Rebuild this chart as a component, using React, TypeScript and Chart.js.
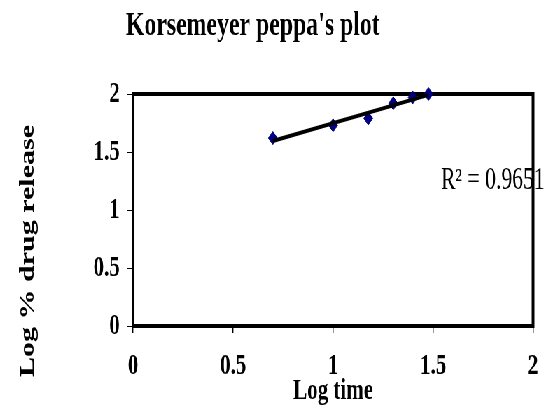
import { useEffect, useRef } from "react";
import { Chart, registerables } from "chart.js";

Chart.register(...registerables);

// ---- data ----
const logTime = [0.699, 1.0, 1.176, 1.301, 1.398, 1.477];
const logRelease = [1.62, 1.73, 1.79, 1.92, 1.97, 2.0];
const xTickValues = [0, 0.5, 1, 1.5, 2];
const yTickValues = [0, 0.5, 1, 1.5, 2];
const chartTitle = "Korsemeyer peppa's plot";
const xAxisTitle = "Log time";
const yAxisTitle = "Log % drug release";
const r2Label = "R² = 0.9651";
const r2Position = [1.54, 1.25];

// ---- view (the reference is horizontally condensed) ----
const SX = 0.7;
const VIEW_W = 549;
const VIEW_H = 419;
const CW = Math.round(VIEW_W / SX);
const SERIF = '"Liberation Serif", "Times New Roman", serif';

function linearFit(xs: number[], ys: number[]) {
  const n = xs.length;
  const mx = xs.reduce((a, b) => a + b, 0) / n;
  const my = ys.reduce((a, b) => a + b, 0) / n;
  let sxy = 0;
  let sxx = 0;
  for (let i = 0; i < n; i++) {
    sxy += (xs[i] - mx) * (ys[i] - my);
    sxx += (xs[i] - mx) * (xs[i] - mx);
  }
  const m = sxy / sxx;
  return { m, b: my - m * mx };
}

const decor = {
  id: "decor",
  beforeDatasetsDraw(chart: any) {
    const { ctx, chartArea: a, scales } = chart;
    ctx.save();
    ctx.fillStyle = "#000";
    ctx.font = `31px ${SERIF}`;
    ctx.textAlign = "left";
    ctx.textBaseline = "middle";
    ctx.fillText(
      r2Label,
      scales.x.getPixelForValue(r2Position[0]),
      scales.y.getPixelForValue(r2Position[1])
    );
    ctx.strokeStyle = "#000";
    ctx.lineWidth = 4;
    ctx.strokeRect(a.left, a.top, a.right - a.left, a.bottom - a.top);
    ctx.restore();
  },
  afterDraw(chart: any) {
    const { ctx } = chart;
    ctx.save();
    ctx.fillStyle = "#000";
    ctx.font = `bold 34px ${SERIF}`;
    ctx.textAlign = "center";
    ctx.textBaseline = "middle";
    ctx.fillText(chartTitle, 361, 26);
    ctx.translate(40, 251);
    ctx.rotate(-Math.PI / 2);
    ctx.font = `bold 30px ${SERIF}`;
    ctx.fillText(yAxisTitle, 0, 0);
    ctx.restore();
  },
};

export default function App() {
  const ref = useRef<HTMLCanvasElement | null>(null);

  useEffect(() => {
    if (!ref.current) return;
    const fit = linearFit(logTime, logRelease);
    const x0 = logTime[0];
    const x1 = logTime[logTime.length - 1];
    const tickFont = { family: SERIF, size: 30, weight: "bold" as const };

    const chart = new Chart(ref.current, {
      type: "scatter",
      data: {
        datasets: [
          {
            type: "line",
            label: "Trend",
            data: [
              { x: x0, y: fit.m * x0 + fit.b },
              { x: x1, y: fit.m * x1 + fit.b },
            ],
            borderColor: "#000",
            borderWidth: 4,
            pointRadius: 0,
            fill: false,
            clip: false as any,
          },
          {
            label: "Log % drug release",
            data: logTime.map((x, i) => ({ x, y: logRelease[i] })),
            pointStyle: "rectRot",
            pointRadius: 6.5,
            backgroundColor: "#000080",
            borderColor: "#000080",
            borderWidth: 1,
            clip: false as any,
          },
        ],
      },
      options: {
        animation: false,
        responsive: false,
        devicePixelRatio: 1,
        layout: { padding: { top: 94, right: 20, bottom: 0, left: 0 } },
        plugins: {
          legend: { display: false },
          title: { display: false },
          tooltip: { enabled: false },
        },
        scales: {
          x: {
            type: "linear",
            min: 0,
            max: 2,
            afterBuildTicks: (s: any) => {
              s.ticks = xTickValues.map((v) => ({ value: v }));
            },
            afterFit: (s: any) => {
              s.height = 93;
            },
            border: { display: false },
            grid: {
              drawOnChartArea: false,
              drawTicks: true,
              tickLength: 7,
              color: "#000",
              lineWidth: 1.4,
            },
            ticks: {
              color: "#000",
              font: tickFont,
              padding: 15,
              maxRotation: 0,
              callback: (v: any) => String(v),
            },
            title: {
              display: true,
              text: xAxisTitle,
              color: "#000",
              font: { family: SERIF, size: 30, weight: "bold" },
              padding: { top: 0, bottom: 10 },
            },
          },
          y: {
            type: "linear",
            min: 0,
            max: 2,
            afterBuildTicks: (s: any) => {
              s.ticks = yTickValues.map((v) => ({ value: v }));
            },
            afterFit: (s: any) => {
              s.width = 190;
            },
            border: { display: false },
            grid: {
              drawOnChartArea: false,
              drawTicks: true,
              tickLength: 9,
              color: "#000",
              lineWidth: 1,
            },
            ticks: {
              color: "#000",
              font: tickFont,
              padding: 10,
              callback: (v: any) => String(v),
            },
          },
        },
      },
      plugins: [decor],
    });
    return () => chart.destroy();
  }, []);

  return (
    <div
      style={{
        position: "fixed",
        left: 0,
        top: 0,
        width: CW,
        height: VIEW_H,
        transform: `scaleX(${SX})`,
        transformOrigin: "0 0",
        background: "#fff",
      }}
    >
      <canvas
        ref={ref}
        width={CW}
        height={VIEW_H}
        style={{ display: "block", width: CW, height: VIEW_H }}
      />
    </div>
  );
}
